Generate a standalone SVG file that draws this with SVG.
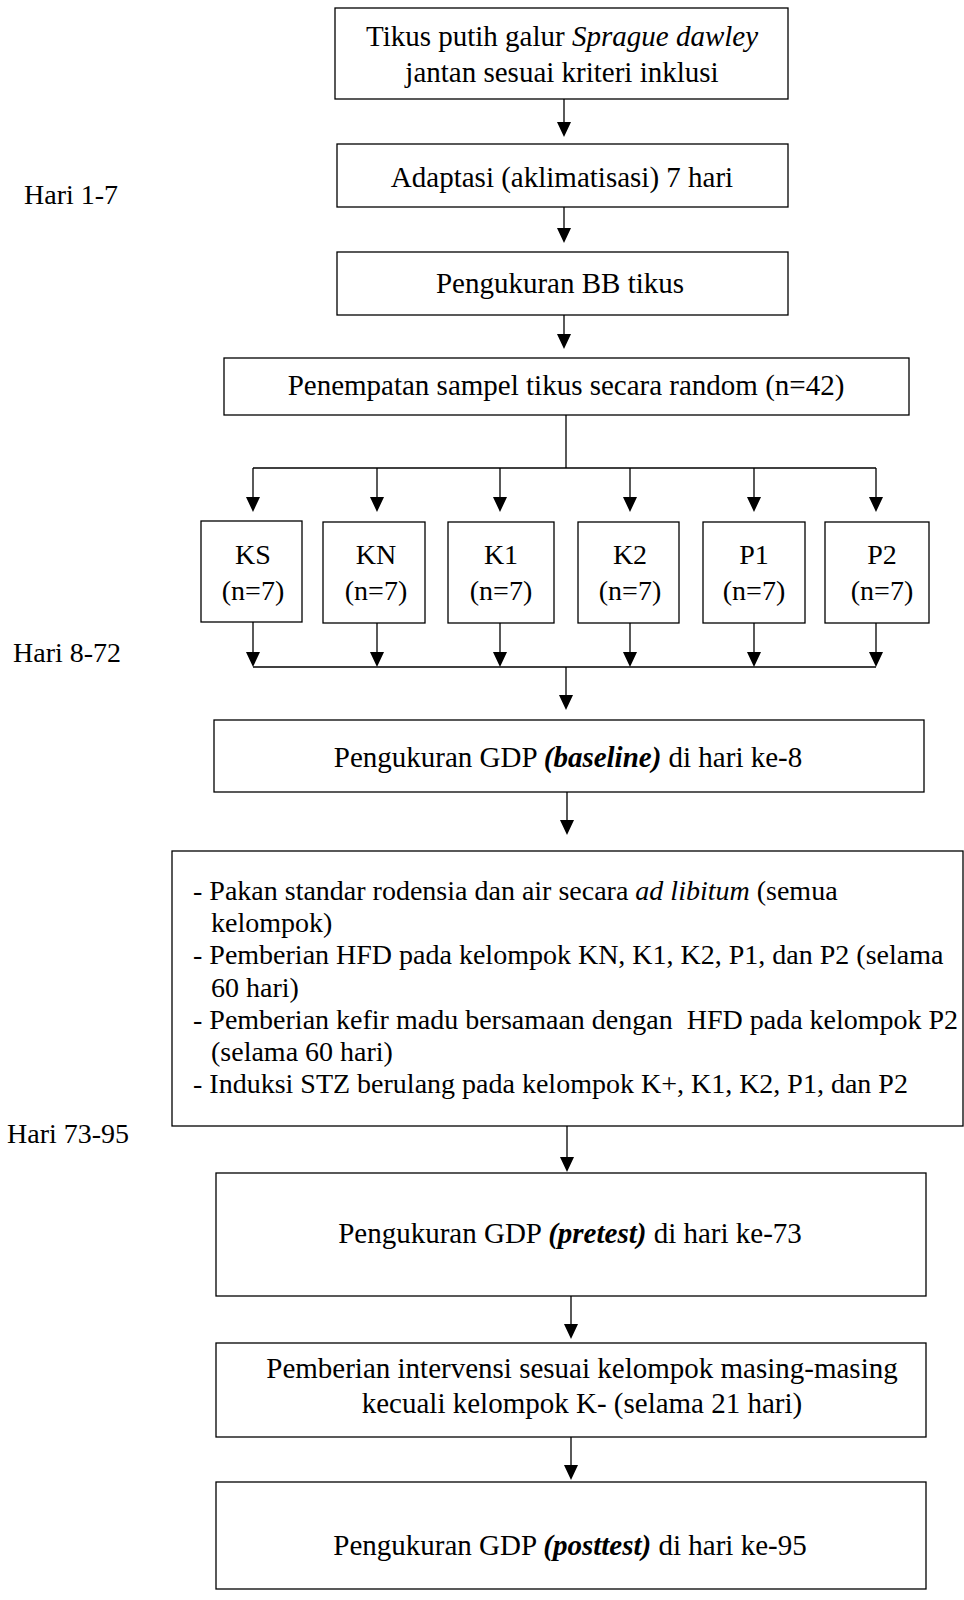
<svg xmlns="http://www.w3.org/2000/svg" width="964" height="1600" viewBox="0 0 964 1600">
  <style>
    text { font-family: "Liberation Serif", "Times New Roman", serif; font-size: 29px; fill: #000; }
    .c { text-anchor: middle; }
    .s { font-size: 28px; }
    .pre { white-space: pre; }
    .box { fill: #fff; stroke: #000; stroke-width: 1.3; }
    .ln { fill: none; stroke: #000; stroke-width: 1.3; }
    .i { font-style: italic; }
    .bi { font-style: italic; font-weight: bold; }
  </style>
  <defs>
    <marker id="arr" viewBox="0 0 15 14" refX="12" refY="7" markerWidth="15" markerHeight="14" markerUnits="userSpaceOnUse" orient="auto">
      <path d="M0,0 L15,7 L0,14 z" fill="#000"/>
    </marker>
  </defs>

  <rect width="964" height="1600" fill="#fff"/>

  <!-- phase labels -->
  <g id="phase-labels">
    <text class="s" x="24" y="204">Hari 1-7</text>
    <text class="s" x="13" y="662">Hari 8-72</text>
    <text class="s" x="7" y="1143">Hari 73-95</text>
  </g>

  <!-- connectors -->
  <g id="connectors">
    <line class="ln" x1="564" y1="99" x2="564" y2="134" marker-end="url(#arr)"/>
    <line class="ln" x1="564" y1="207" x2="564" y2="240" marker-end="url(#arr)"/>
    <line class="ln" x1="564" y1="315" x2="564" y2="346" marker-end="url(#arr)"/>
    <!-- split into six groups -->
    <line class="ln" x1="566" y1="415" x2="566" y2="468"/>
    <line class="ln" x1="253" y1="468" x2="876" y2="468"/>
    <line class="ln" x1="253" y1="468" x2="253" y2="509" marker-end="url(#arr)"/>
    <line class="ln" x1="377" y1="468" x2="377" y2="509" marker-end="url(#arr)"/>
    <line class="ln" x1="500" y1="468" x2="500" y2="509" marker-end="url(#arr)"/>
    <line class="ln" x1="630" y1="468" x2="630" y2="509" marker-end="url(#arr)"/>
    <line class="ln" x1="754" y1="468" x2="754" y2="509" marker-end="url(#arr)"/>
    <line class="ln" x1="876" y1="468" x2="876" y2="509" marker-end="url(#arr)"/>
    <!-- merge back -->
    <line class="ln" x1="253" y1="622" x2="253" y2="664" marker-end="url(#arr)"/>
    <line class="ln" x1="377" y1="623" x2="377" y2="664" marker-end="url(#arr)"/>
    <line class="ln" x1="500" y1="623" x2="500" y2="664" marker-end="url(#arr)"/>
    <line class="ln" x1="630" y1="623" x2="630" y2="664" marker-end="url(#arr)"/>
    <line class="ln" x1="754" y1="623" x2="754" y2="664" marker-end="url(#arr)"/>
    <line class="ln" x1="876" y1="623" x2="876" y2="664" marker-end="url(#arr)"/>
    <line class="ln" x1="253" y1="667" x2="876" y2="667"/>
    <line class="ln" x1="566" y1="667" x2="566" y2="707" marker-end="url(#arr)"/>
    <line class="ln" x1="567" y1="792" x2="567" y2="832" marker-end="url(#arr)"/>
    <line class="ln" x1="567" y1="1126" x2="567" y2="1169" marker-end="url(#arr)"/>
    <line class="ln" x1="571" y1="1296" x2="571" y2="1336" marker-end="url(#arr)"/>
    <line class="ln" x1="571" y1="1437" x2="571" y2="1477" marker-end="url(#arr)"/>
  </g>

  <g id="n-subjects">
    <rect class="box" x="335" y="8" width="453" height="91"/>
    <text class="c" x="562" y="46">Tikus putih galur <tspan class="i">Sprague dawley</tspan></text>
    <text class="c" x="562" y="82">jantan sesuai kriteri inklusi</text>
  </g>

  <g id="n-adaptation">
    <rect class="box" x="337" y="144" width="451" height="63"/>
    <text class="c" x="562" y="187">Adaptasi (aklimatisasi) 7 hari</text>
  </g>

  <g id="n-weight">
    <rect class="box" x="337" y="252" width="451" height="63"/>
    <text class="c" x="560" y="293">Pengukuran BB tikus</text>
  </g>

  <g id="n-random">
    <rect class="box" x="224" y="358" width="685" height="57"/>
    <text class="c" x="566" y="395">Penempatan sampel tikus secara random (n=42)</text>
  </g>

  <g id="n-ks">
    <rect class="box" x="201" y="521" width="101" height="101"/>
    <text class="c s" x="253" y="564">KS</text>
    <text class="c s" x="253" y="600">(n=7)</text>
  </g>
  <g id="n-kn">
    <rect class="box" x="323" y="522" width="102" height="101"/>
    <text class="c s" x="376" y="564">KN</text>
    <text class="c s" x="376" y="600">(n=7)</text>
  </g>
  <g id="n-k1">
    <rect class="box" x="448" y="522" width="106" height="101"/>
    <text class="c s" x="501" y="564">K1</text>
    <text class="c s" x="501" y="600">(n=7)</text>
  </g>
  <g id="n-k2">
    <rect class="box" x="578" y="522" width="101" height="101"/>
    <text class="c s" x="630" y="564">K2</text>
    <text class="c s" x="630" y="600">(n=7)</text>
  </g>
  <g id="n-p1">
    <rect class="box" x="703" y="522" width="102" height="101"/>
    <text class="c s" x="754" y="564">P1</text>
    <text class="c s" x="754" y="600">(n=7)</text>
  </g>
  <g id="n-p2">
    <rect class="box" x="825" y="522" width="104" height="101"/>
    <text class="c s" x="882" y="564">P2</text>
    <text class="c s" x="882" y="600">(n=7)</text>
  </g>

  <g id="n-baseline">
    <rect class="box" x="214" y="720" width="710" height="72"/>
    <text class="c" x="568" y="767">Pengukuran GDP <tspan class="bi">(baseline)</tspan> di hari ke-8</text>
  </g>

  <g id="n-treatment">
    <rect class="box" x="172" y="851" width="791" height="275"/>
    <text class="s" x="193" y="900">- Pakan standar rodensia dan air secara <tspan class="i">ad libitum</tspan> (semua</text>
    <text class="s" x="211" y="932">kelompok)</text>
    <text class="s" x="193" y="964">- Pemberian HFD pada kelompok KN, K1, K2, P1, dan P2 (selama</text>
    <text class="s" x="211" y="997">60 hari)</text>
    <text class="s pre" x="193" y="1029">- Pemberian kefir madu bersamaan dengan  HFD pada kelompok P2</text>
    <text class="s" x="211" y="1061">(selama 60 hari)</text>
    <text class="s" x="193" y="1093">- Induksi STZ berulang pada kelompok K+, K1, K2, P1, dan P2</text>
  </g>

  <g id="n-pretest">
    <rect class="box" x="216" y="1173" width="710" height="123"/>
    <text class="c" x="570" y="1243">Pengukuran GDP <tspan class="bi">(pretest)</tspan> di hari ke-73</text>
  </g>

  <g id="n-intervention">
    <rect class="box" x="216" y="1343" width="710" height="94"/>
    <text class="c" x="582" y="1378">Pemberian intervensi sesuai kelompok masing-masing</text>
    <text class="c" x="582" y="1413">kecuali kelompok K- (selama 21 hari)</text>
  </g>

  <g id="n-posttest">
    <rect class="box" x="216" y="1482" width="710" height="107"/>
    <text class="c" x="570" y="1555">Pengukuran GDP <tspan class="bi">(posttest)</tspan> di hari ke-95</text>
  </g>
</svg>
